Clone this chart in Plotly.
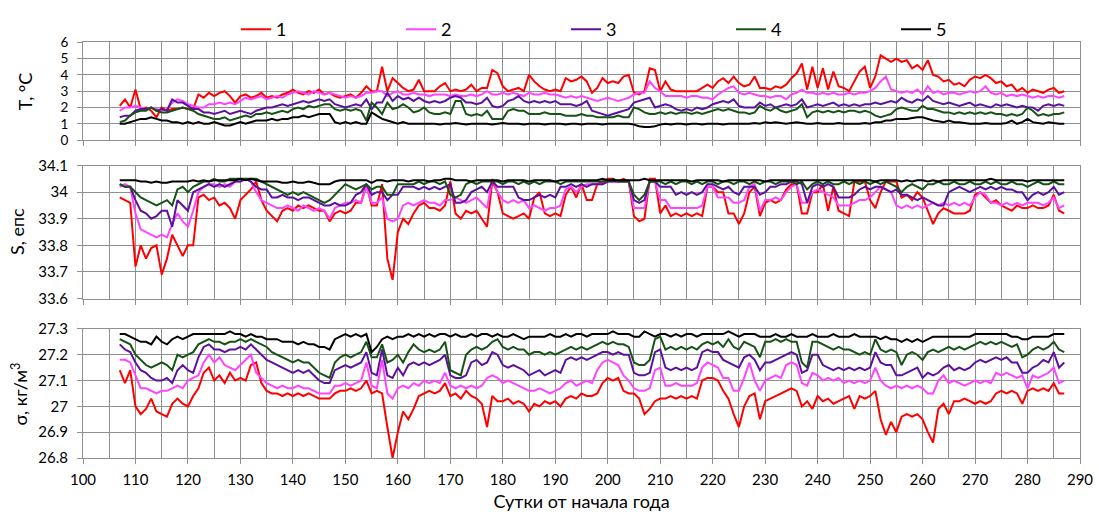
import plotly.graph_objects as go

days = list(range(107, 288))

# ---- Temperature, °C (series 1..5) ----
T1 = [2.1, 2.5, 2.0, 3.1, 1.9, 2.0, 1.8, 1.4, 2.0, 1.8,
      1.9, 1.9, 2.0, 1.9, 1.9, 2.8, 2.6, 2.9, 2.7, 2.9,
      3.0, 2.7, 2.3, 2.7, 2.8, 2.6, 2.7, 2.9, 2.6, 2.7,
      2.6, 2.8, 2.9, 3.1, 2.9, 2.8, 3.0, 2.9, 3.1, 2.8,
      2.9, 2.7, 2.6, 2.7, 2.8, 2.6, 2.9, 3.3, 3.0, 3.0,
      4.5, 3.0, 3.8, 3.5, 3.2, 3.0, 3.1, 3.7, 3.0, 3.0,
      3.0, 3.3, 3.5, 3.0, 3.1, 3.0, 3.1, 3.4, 3.0, 3.2,
      3.2, 4.3, 4.1, 3.3, 3.0, 3.1, 3.2, 3.0, 4.0, 3.6,
      3.3, 3.1, 3.0, 3.1, 3.0, 3.8, 3.6, 3.7, 3.9, 3.6,
      2.9, 3.2, 3.8, 3.5, 3.6, 3.5, 3.9, 4.0, 2.9, 2.8,
      3.0, 4.4, 4.3, 3.0, 3.6, 3.1, 3.0, 3.0, 3.0, 3.0,
      3.0, 3.2, 3.4, 3.2, 3.6, 3.8, 3.5, 3.9, 3.5, 3.3,
      3.4, 3.9, 3.2, 3.2, 3.1, 3.3, 3.2, 3.4, 3.8, 4.1,
      4.7, 3.1, 4.5, 3.2, 4.4, 3.1, 4.2, 3.3, 3.2, 3.0,
      3.6, 4.2, 4.5, 3.2, 3.9, 5.2, 5.0, 4.8, 5.0, 4.8,
      4.9, 4.4, 4.6, 4.3, 4.9, 4.0, 3.9, 3.6, 3.7, 3.4,
      3.5, 3.3, 3.7, 3.9, 3.8, 4.0, 3.8, 3.5, 3.6, 3.3,
      3.4, 3.0, 3.2, 2.9, 3.1, 3.0, 2.9, 3.1, 3.2, 2.9,
      3.0]
T2 = [1.8, 2.0, 2.0, 2.1, 2.0, 1.9, 2.0, 1.9, 1.8, 1.9,
      2.3, 2.5, 2.4, 2.2, 2.1, 2.0, 2.0, 2.2, 2.2, 2.3,
      2.2, 2.3, 2.2, 2.4, 2.6, 2.5, 2.6, 2.7, 2.5, 2.6,
      2.7, 2.6, 2.8, 2.9, 3.0, 2.9, 2.8, 3.0, 2.9, 2.8,
      2.9, 2.8, 2.7, 2.6, 2.7, 2.6, 2.7, 2.9, 2.9, 3.0,
      3.0, 2.7, 2.9, 3.0, 2.8, 2.8, 2.9, 2.8, 2.8, 2.7,
      2.8, 2.8, 2.8, 2.7, 2.8, 2.7, 2.7, 2.8, 2.7, 2.8,
      3.0, 2.8, 2.8, 2.9, 2.8, 2.9, 2.8, 2.7, 2.9, 2.8,
      2.8, 2.9, 2.8, 2.8, 2.7, 2.6, 2.7, 2.6, 2.7, 2.6,
      2.5, 2.4, 2.5, 2.6, 2.5, 2.4, 2.5, 2.6, 2.8, 2.9,
      2.9, 3.6, 3.2, 3.0, 2.7, 2.7, 2.7, 2.7, 2.6, 2.7,
      2.7, 2.6, 2.6, 2.5, 2.8, 3.0, 3.2, 3.3, 2.9, 2.8,
      2.9, 2.8, 2.7, 2.7, 2.6, 2.7, 2.7, 2.5, 2.8, 2.9,
      3.1, 2.9, 2.9, 2.8, 2.9, 2.8, 2.9, 2.8, 2.8, 2.9,
      2.8, 2.9, 2.9, 3.0, 3.2, 3.6, 3.9, 3.1, 3.0, 2.9,
      3.0, 2.9, 3.1, 2.8, 3.3, 2.9, 3.0, 2.8, 2.9, 2.9,
      2.8, 2.9, 3.0, 2.9, 3.0, 3.3, 2.9, 2.8, 2.9, 2.7,
      2.8, 2.7, 2.8, 2.7, 2.6, 2.7, 2.6, 2.7, 2.7, 2.6,
      2.7]
T3 = [1.4, 1.5, 1.5, 1.8, 1.9, 1.9, 2.0, 1.8, 1.9, 1.8,
      2.5, 2.3, 2.3, 2.1, 1.9, 1.9, 1.7, 1.7, 1.6, 1.7,
      1.8, 1.6, 1.7, 1.8, 1.7, 1.6, 1.8, 1.9, 2.0, 2.0,
      2.1, 2.2, 2.1, 2.2, 2.3, 2.4, 2.3, 2.4, 2.5, 2.4,
      2.5, 2.2, 2.1, 2.0, 2.1, 2.2, 2.1, 2.5, 1.9, 2.3,
      2.3, 2.9, 2.4, 2.7, 2.5, 2.6, 2.4, 2.6, 2.4, 2.3,
      2.4, 2.3, 2.4, 2.6, 2.7, 2.6, 2.3, 2.3, 2.2, 2.3,
      2.6, 2.1, 2.0, 2.1, 2.4, 2.5, 2.7, 2.4, 2.3, 2.4,
      2.3, 2.4, 2.3, 2.4, 2.2, 2.2, 2.2, 2.1, 2.2, 2.4,
      1.8, 1.7, 1.6, 1.5, 1.6, 1.7, 1.8, 1.9, 2.3, 2.4,
      2.5, 2.6, 2.0, 2.1, 2.2, 2.1, 1.9, 1.8, 1.9, 1.8,
      2.0, 1.9, 2.0, 2.2, 2.3, 2.4, 2.3, 2.5, 2.1, 2.0,
      2.0, 2.0, 2.3, 2.1, 2.2, 2.0, 2.1, 2.2, 2.1, 2.2,
      2.5, 2.0, 2.1, 2.2, 2.1, 2.2, 2.3, 2.1, 2.2, 2.1,
      2.2, 2.1, 2.2, 2.2, 2.3, 2.2, 2.3, 2.4, 2.3, 2.6,
      2.4, 2.3, 2.5, 2.4, 2.7, 2.4, 2.3, 2.2, 2.3, 2.2,
      2.1, 2.2, 2.3, 2.1, 2.2, 2.1, 2.0, 2.2, 2.1, 2.2,
      2.1, 2.0, 2.1, 2.0, 2.0, 1.8, 2.1, 2.2, 2.1, 2.2,
      2.1]
T4 = [1.1, 1.2, 1.5, 1.7, 1.8, 1.8, 2.0, 1.8, 1.7, 1.7,
      1.8, 1.9, 2.0, 1.9, 1.8, 1.6, 1.5, 1.4, 1.3, 1.3,
      1.4, 1.2, 1.3, 1.4, 1.5, 1.4, 1.6, 1.6, 1.7, 1.6,
      1.7, 1.8, 1.7, 1.9, 2.0, 1.9, 2.1, 2.0, 2.1, 2.2,
      2.2, 1.9, 1.8, 1.9, 1.8, 1.9, 1.8, 1.2, 2.3, 2.0,
      1.6, 2.3, 1.9, 2.0, 2.2, 2.0, 1.7, 1.8, 2.0, 1.7,
      1.6, 1.6, 1.7, 1.6, 2.4, 2.4, 1.6, 1.5, 1.6, 1.5,
      1.8, 1.3, 1.3, 1.3, 1.8, 1.9, 1.8, 1.8, 1.6, 1.6,
      1.6, 1.7, 1.6, 1.6, 1.6, 1.5, 1.5, 1.5, 1.6, 1.5,
      1.5, 1.4, 1.4, 1.4, 1.4, 1.5, 1.4, 1.4, 2.0, 1.9,
      1.7, 1.6, 1.6, 1.7, 1.6, 1.7, 1.6, 1.7, 1.7, 1.6,
      1.7, 1.6, 1.7, 1.8, 1.9, 1.8, 1.9, 1.8, 1.7, 1.7,
      1.6, 1.7, 2.1, 1.9, 1.8, 2.0, 1.8, 1.7, 1.8, 1.9,
      2.2, 1.4, 1.7, 1.8, 1.7, 1.8, 1.7, 1.8, 1.7, 1.8,
      1.8, 1.7, 1.8, 1.7, 1.5, 1.4, 1.5, 1.6, 1.9, 2.0,
      1.9, 1.8, 1.8, 2.1, 1.9, 1.9, 1.8, 1.7, 1.7, 1.6,
      1.7, 1.6, 1.7, 1.6, 1.7, 1.6, 1.7, 1.6, 1.6, 1.5,
      1.6, 1.5, 1.6, 2.0, 1.8, 1.5, 1.6, 1.5, 1.6, 1.6,
      1.7]
T5 = [1.0, 1.0, 1.1, 1.2, 1.3, 1.3, 1.4, 1.3, 1.2, 1.2,
      1.1, 1.1, 1.0, 1.1, 1.0, 1.1, 1.0, 1.0, 1.1, 1.0,
      0.9, 0.9, 1.0, 1.1, 1.0, 1.1, 1.2, 1.2, 1.2, 1.3,
      1.2, 1.3, 1.3, 1.4, 1.4, 1.5, 1.4, 1.5, 1.6, 1.6,
      1.6, 1.1, 1.0, 1.1, 1.0, 1.1, 1.0, 1.0, 1.7, 1.5,
      1.3, 1.2, 1.1, 1.0, 1.1, 1.0, 1.0, 1.0, 1.0, 1.0,
      1.0, 0.95, 1.0, 1.0, 1.05, 1.0, 0.95, 1.0, 1.0, 1.0,
      1.0, 0.95, 1.0, 1.05, 1.0, 1.0, 1.0, 0.95, 1.0, 1.0,
      1.0, 0.95, 1.0, 1.0, 1.0, 0.95, 1.0, 1.0, 0.95, 1.0,
      1.0, 1.0, 0.95, 1.0, 1.0, 1.0, 1.0, 1.0, 0.95, 0.85,
      0.8, 0.8, 0.85, 0.95, 1.0, 0.95, 1.0, 1.0, 0.95, 1.0,
      1.0, 0.95, 1.0, 1.0, 1.0, 0.95, 1.0, 1.0, 1.0, 1.0,
      1.0, 1.05, 1.0, 1.1, 1.05, 1.1, 1.05, 1.0, 1.05, 1.1,
      1.05, 1.0, 1.0, 1.05, 1.0, 1.0, 1.0, 1.05, 1.0, 1.0,
      1.0, 1.0, 1.05, 1.0, 1.1, 1.1, 1.2, 1.2, 1.3, 1.3,
      1.3, 1.35, 1.4, 1.4, 1.3, 1.2, 1.15, 1.1, 1.2, 1.1,
      1.1, 1.05, 1.0, 1.0, 1.0, 1.05, 1.0, 1.0, 1.0, 1.05,
      1.2, 1.0, 1.1, 1.3, 1.1, 1.05, 1.0, 1.1, 1.05, 1.0,
      1.0]

# ---- Salinity, psu ----
S1 = [33.98, 33.97, 33.96, 33.72, 33.80, 33.75, 33.79, 33.80, 33.69, 33.75,
      33.84, 33.80, 33.76, 33.80, 33.80, 33.98, 33.99, 33.97, 33.98, 33.95,
      33.96, 33.94, 33.90, 33.97, 33.99, 34.01, 34.04, 33.97, 33.93, 33.91,
      33.89, 33.93, 33.94, 33.93, 33.95, 33.94, 33.95, 33.94, 33.93, 33.93,
      33.89, 33.92, 33.93, 33.92, 33.93, 33.96, 33.96, 34.03, 33.95, 33.95,
      34.03, 33.75, 33.67, 33.85, 33.90, 33.88, 33.92, 33.95, 33.96, 33.94,
      33.94, 33.93, 33.95, 34.04, 33.92, 33.90, 33.93, 33.92, 33.93, 33.90,
      33.87, 34.04, 34.00, 33.92, 33.91, 33.90, 33.91, 33.92, 33.90, 33.98,
      34.00, 33.92, 33.91, 33.92, 33.91, 33.99, 34.02, 33.98, 34.03, 33.97,
      33.97, 34.03, 34.04, 34.05, 34.05, 34.04, 34.05, 34.04, 33.91, 33.89,
      33.90, 34.05, 34.05, 33.92, 33.95, 33.91, 33.92, 33.91, 33.92, 33.91,
      33.92, 33.91, 34.02, 34.02, 34.00, 34.00, 33.92, 33.92, 33.88, 33.92,
      34.00, 34.02, 33.91, 33.96, 33.97, 33.96, 33.97, 34.01, 34.03, 34.03,
      33.92, 33.92, 34.00, 34.00, 34.03, 33.93, 34.02, 33.93, 33.92, 33.91,
      34.04, 34.04, 34.04, 33.97, 33.94, 34.00, 34.04, 34.04, 34.04, 33.98,
      33.99, 33.97, 34.00, 33.98, 33.93, 33.88, 33.92, 33.94, 33.93, 33.92,
      33.92, 33.92, 33.93, 33.99, 34.00, 33.98, 33.96, 33.97, 33.95, 33.94,
      33.93, 33.95, 33.94, 33.94, 33.95, 33.94, 33.94, 33.95, 33.99, 33.93,
      33.92]
S2 = [34.02, 34.03, 34.02, 33.92, 33.86, 33.85, 33.84, 33.83, 33.84, 33.83,
      33.88, 33.92, 33.89, 33.87, 33.93, 34.00, 34.02, 34.03, 34.03, 34.02,
      34.03, 34.02, 34.04, 34.04, 34.05, 34.04, 34.00, 33.97, 33.96, 33.95,
      33.94, 33.94, 33.95, 33.94, 33.93, 33.95, 33.94, 33.93, 33.94, 33.93,
      33.90, 33.94, 33.95, 33.96, 33.96, 33.97, 33.96, 34.02, 33.96, 33.96,
      33.98, 33.90, 33.89, 33.90, 33.95, 33.96, 33.95, 33.96, 33.97, 33.96,
      33.96, 33.95, 33.97, 33.97, 33.98, 33.97, 33.96, 33.97, 33.98, 33.96,
      33.94, 34.05, 34.00, 33.97, 33.96, 33.97, 33.96, 33.97, 33.94, 33.95,
      33.94, 33.93, 33.94, 33.94, 33.95, 34.01, 34.02, 34.00, 34.02, 34.03,
      34.03, 34.03, 34.03, 34.04, 34.04, 34.04, 34.04, 34.04, 33.94, 33.94,
      33.94, 34.04, 34.04, 33.97, 33.97, 33.94, 33.94, 33.94, 33.94, 33.94,
      33.94, 33.95, 34.02, 34.02, 33.98, 33.98, 33.98, 33.96, 33.96, 33.97,
      34.02, 34.03, 33.93, 33.97, 33.97, 33.98, 33.97, 34.00, 34.02, 34.03,
      33.96, 33.96, 34.00, 34.01, 34.00, 33.99, 33.98, 33.95, 33.95, 33.95,
      33.96, 33.97, 33.97, 33.98, 34.00, 34.02, 34.01, 34.00, 33.95, 33.94,
      33.95, 33.94, 33.95, 33.94, 33.95, 33.96, 33.95, 33.96, 33.95, 33.96,
      33.95, 33.96, 33.95, 33.98, 34.00, 33.99, 33.96, 33.96, 33.95, 33.96,
      33.95, 33.96, 33.95, 33.96, 33.96, 33.96, 33.95, 33.96, 33.98, 33.94,
      33.95]
S3 = [34.03, 34.02, 34.02, 33.97, 33.93, 33.92, 33.90, 33.91, 33.93, 33.93,
      33.87, 33.97, 33.95, 33.93, 34.00, 34.01, 34.02, 34.03, 34.02, 34.03,
      34.02, 34.03, 34.04, 34.04, 34.05, 34.04, 34.02, 34.01, 34.01, 33.98,
      33.98, 33.99, 33.98, 33.98, 33.97, 33.98, 33.98, 33.97, 33.96, 33.95,
      33.95, 33.96, 33.95, 33.95, 33.96, 33.99, 34.00, 34.03, 33.99, 34.00,
      34.00, 33.97, 33.99, 33.99, 34.02, 34.02, 34.02, 34.01, 34.02, 34.01,
      34.02, 34.01, 34.02, 34.03, 33.96, 33.96, 33.97, 34.00, 34.01, 34.02,
      34.00, 34.04, 34.02, 34.02, 34.02, 34.02, 33.98, 33.97, 33.97, 33.98,
      33.99, 33.98, 33.99, 33.98, 34.02, 34.02, 34.03, 34.02, 34.03, 34.02,
      34.03, 34.03, 34.03, 34.04, 34.04, 34.04, 34.04, 34.04, 33.97, 33.96,
      33.97, 34.04, 34.04, 34.02, 34.02, 34.02, 33.99, 34.00, 33.99, 34.00,
      33.99, 34.00, 34.03, 34.03, 34.02, 34.01, 34.02, 34.00, 33.99, 34.02,
      34.02, 34.02, 33.99, 34.00, 34.02, 34.02, 34.03, 34.03, 34.04, 34.04,
      34.03, 33.96, 34.02, 34.03, 34.02, 34.03, 34.02, 33.98, 33.98, 33.98,
      33.99, 34.01, 34.02, 34.01, 34.02, 34.02, 34.01, 34.00, 34.01, 33.99,
      33.99, 33.98, 33.97, 33.98, 33.97, 33.96, 33.95, 33.95, 34.00, 34.01,
      34.02, 34.01, 34.00, 34.01, 34.02, 34.01, 34.02, 34.01, 34.02, 34.01,
      34.01, 34.00, 34.00, 33.97, 33.99, 34.00, 33.99, 34.00, 34.02, 33.99,
      34.00]
S4 = [34.03, 34.02, 34.02, 34.00, 33.98, 33.97, 33.96, 33.95, 33.96, 33.97,
      33.95, 34.01, 34.02, 34.00, 34.02, 34.03, 34.04, 34.04, 34.05, 34.04,
      34.04, 34.05, 34.05, 34.05, 34.05, 34.05, 34.05, 34.04, 34.03, 34.02,
      34.01, 34.00, 33.99, 34.00, 33.99, 34.00, 33.99, 33.98, 33.97, 33.96,
      33.97, 33.99, 34.01, 34.03, 34.02, 34.01, 34.02, 34.03, 34.01, 34.02,
      34.02, 33.99, 33.99, 34.03, 34.03, 34.03, 34.03, 34.04, 34.03, 34.04,
      34.04, 34.03, 34.04, 33.99, 33.98, 33.99, 34.03, 34.04, 34.03, 34.04,
      34.04, 34.04, 34.04, 34.03, 34.04, 34.04, 34.03, 34.04, 34.03, 34.04,
      34.03, 34.04, 34.04, 34.04, 34.03, 34.04, 34.04, 34.04, 34.04, 34.04,
      34.04, 34.04, 34.04, 34.04, 34.05, 34.04, 34.04, 34.04, 33.99, 33.97,
      33.99, 34.04, 34.04, 34.04, 34.03, 34.04, 34.03, 34.04, 34.04, 34.03,
      34.04, 34.03, 34.04, 34.04, 34.03, 34.04, 34.04, 34.03, 34.04, 34.04,
      34.03, 34.04, 34.03, 34.04, 34.04, 34.03, 34.04, 34.04, 34.04, 34.03,
      34.04, 34.01, 34.03, 34.04, 34.03, 34.04, 34.03, 34.03, 34.04, 34.03,
      34.04, 34.03, 34.04, 34.03, 34.04, 34.03, 34.04, 34.03, 34.02, 34.00,
      34.02, 34.03, 34.02, 34.01, 34.03, 34.03, 34.04, 34.03, 34.03, 34.04,
      34.03, 34.03, 34.04, 34.03, 34.03, 34.04, 34.03, 34.04, 34.03, 34.03,
      34.04, 34.03, 34.03, 34.02, 34.03, 34.04, 34.03, 34.03, 34.04, 34.03,
      34.03]
S5 = [34.045, 34.045, 34.045, 34.045, 34.04, 34.04, 34.035, 34.04, 34.035, 34.035,
      34.04, 34.04, 34.04, 34.04, 34.045, 34.04, 34.045, 34.04, 34.045, 34.045,
      34.045, 34.045, 34.045, 34.05, 34.045, 34.05, 34.045, 34.04, 34.04, 34.04,
      34.04, 34.035, 34.035, 34.04, 34.035, 34.035, 34.04, 34.035, 34.03, 34.03,
      34.03, 34.04, 34.045, 34.045, 34.045, 34.045, 34.045, 34.045, 34.035, 34.045,
      34.045, 34.04, 34.045, 34.045, 34.045, 34.04, 34.045, 34.045, 34.045, 34.04,
      34.045, 34.045, 34.05, 34.05, 34.045, 34.045, 34.045, 34.04, 34.045, 34.045,
      34.045, 34.045, 34.045, 34.04, 34.045, 34.045, 34.045, 34.045, 34.04, 34.045,
      34.045, 34.045, 34.045, 34.04, 34.045, 34.045, 34.045, 34.045, 34.045, 34.045,
      34.045, 34.045, 34.05, 34.045, 34.045, 34.045, 34.045, 34.045, 34.045, 34.045,
      34.05, 34.045, 34.045, 34.045, 34.045, 34.045, 34.045, 34.045, 34.045, 34.04,
      34.045, 34.045, 34.045, 34.045, 34.045, 34.04, 34.045, 34.045, 34.045, 34.045,
      34.045, 34.045, 34.045, 34.04, 34.045, 34.045, 34.045, 34.045, 34.045, 34.045,
      34.045, 34.045, 34.045, 34.045, 34.045, 34.045, 34.045, 34.045, 34.045, 34.045,
      34.045, 34.045, 34.045, 34.045, 34.04, 34.045, 34.045, 34.045, 34.045, 34.04,
      34.045, 34.04, 34.045, 34.045, 34.04, 34.045, 34.04, 34.045, 34.045, 34.045,
      34.045, 34.045, 34.045, 34.045, 34.045, 34.045, 34.05, 34.045, 34.045, 34.045,
      34.045, 34.045, 34.045, 34.04, 34.045, 34.045, 34.045, 34.045, 34.045, 34.045,
      34.045]

# ---- Density sigma, kg/m3 ----
D1 = [27.14, 27.09, 27.14, 27.00, 26.97, 26.99, 27.03, 26.98, 26.97, 26.96,
      27.01, 27.03, 27.01, 27.00, 27.04, 27.07, 27.13, 27.15, 27.10, 27.12,
      27.09, 27.13, 27.10, 27.11, 27.10, 27.16, 27.17, 27.09, 27.06, 27.05,
      27.05, 27.04, 27.05, 27.04, 27.05, 27.04, 27.05, 27.04, 27.03, 27.03,
      27.03, 27.05, 27.06, 27.06, 27.07, 27.06, 27.07, 27.10, 27.05, 27.06,
      27.05, 26.92, 26.80, 26.90, 26.98, 26.95, 26.99, 27.04, 27.05, 27.06,
      27.05, 27.06, 27.09, 27.04, 27.05, 27.03, 27.06, 27.04, 27.03, 27.01,
      26.92, 27.04, 27.02, 27.02, 27.03, 27.01, 27.02, 27.01, 26.98, 27.01,
      27.00, 27.02, 27.01, 27.02, 27.00, 27.03, 27.04, 27.03, 27.05, 27.04,
      27.04, 27.05, 27.09, 27.11, 27.10, 27.11, 27.06, 27.05, 27.05, 27.03,
      26.97, 26.99, 27.02, 27.03, 27.03, 27.04, 27.03, 27.04, 27.03, 27.04,
      27.03, 27.10, 27.11, 27.11, 27.10, 27.06, 27.03, 26.97, 26.92, 27.00,
      27.04, 27.05, 26.95, 27.02, 27.03, 27.04, 27.05, 27.06, 27.07, 27.06,
      27.00, 27.02, 26.99, 27.04, 27.02, 27.03, 27.01, 27.02, 27.03, 27.04,
      26.99, 27.04, 27.03, 27.04, 27.06, 26.95, 26.89, 26.94, 26.90, 26.96,
      26.97, 26.96, 26.97, 26.95, 26.90, 26.86, 26.99, 27.01, 26.97, 27.02,
      27.02, 27.03, 27.02, 27.01, 27.02, 27.01, 27.02, 27.05, 27.06, 27.05,
      27.06, 27.05, 27.01, 27.06, 27.07, 27.06, 27.07, 27.06, 27.09, 27.05,
      27.05]
D2 = [27.18, 27.18, 27.17, 27.12, 27.07, 27.07, 27.06, 27.05, 27.06, 27.06,
      27.07, 27.08, 27.07, 27.10, 27.11, 27.12, 27.17, 27.20, 27.17, 27.19,
      27.16, 27.15, 27.14, 27.16, 27.18, 27.20, 27.13, 27.11, 27.09, 27.08,
      27.07, 27.08, 27.07, 27.07, 27.08, 27.07, 27.07, 27.06, 27.05, 27.05,
      27.05, 27.08, 27.08, 27.09, 27.08, 27.09, 27.10, 27.17, 27.08, 27.07,
      27.18, 27.05, 27.03, 27.07, 27.08, 27.07, 27.09, 27.08, 27.10, 27.09,
      27.10, 27.09, 27.13, 27.08, 27.07, 27.08, 27.07, 27.08, 27.07, 27.08,
      27.11, 27.12, 27.11, 27.09, 27.10, 27.09, 27.08, 27.07, 27.06, 27.06,
      27.07, 27.06, 27.05, 27.06, 27.07, 27.09, 27.10, 27.08, 27.09, 27.10,
      27.09, 27.14, 27.17, 27.18, 27.17, 27.16, 27.12, 27.10, 27.07, 27.06,
      27.06, 27.07, 27.14, 27.15, 27.08, 27.08, 27.09, 27.08, 27.08, 27.08,
      27.09, 27.15, 27.17, 27.16, 27.15, 27.11, 27.11, 27.06, 27.06, 27.11,
      27.17, 27.10, 27.06, 27.10, 27.11, 27.12, 27.11, 27.16, 27.17, 27.16,
      27.09, 27.08, 27.13, 27.12, 27.10, 27.11, 27.10, 27.11, 27.09, 27.10,
      27.09, 27.10, 27.09, 27.10, 27.15, 27.10, 27.08, 27.07, 27.08, 27.07,
      27.08, 27.07, 27.08, 27.07, 27.05, 27.05, 27.10, 27.12, 27.09, 27.10,
      27.09, 27.08, 27.09, 27.10, 27.09, 27.10, 27.09, 27.13, 27.12, 27.13,
      27.12, 27.11, 27.12, 27.07, 27.12, 27.11, 27.12, 27.13, 27.15, 27.09,
      27.10]
D3 = [27.24, 27.22, 27.21, 27.17, 27.14, 27.13, 27.11, 27.10, 27.10, 27.11,
      27.09, 27.14, 27.16, 27.14, 27.13, 27.19, 27.23, 27.24, 27.22, 27.22,
      27.21, 27.22, 27.22, 27.23, 27.22, 27.24, 27.22, 27.20, 27.18, 27.17,
      27.16, 27.15, 27.14, 27.13, 27.14, 27.13, 27.14, 27.12, 27.10, 27.09,
      27.09, 27.14, 27.15, 27.16, 27.15, 27.16, 27.17, 27.21, 27.13, 27.12,
      27.22, 27.12, 27.11, 27.15, 27.12, 27.16, 27.17, 27.16, 27.17, 27.16,
      27.17, 27.18, 27.20, 27.12, 27.11, 27.11, 27.12, 27.17, 27.18, 27.16,
      27.17, 27.21, 27.20, 27.16, 27.15, 27.16, 27.15, 27.14, 27.12, 27.13,
      27.14, 27.12, 27.13, 27.14, 27.13, 27.18, 27.19, 27.18, 27.19, 27.18,
      27.19, 27.20, 27.21, 27.21, 27.20, 27.21, 27.20, 27.20, 27.13, 27.12,
      27.12, 27.13, 27.21, 27.22, 27.15, 27.14, 27.15, 27.14, 27.15, 27.14,
      27.15, 27.21, 27.22, 27.21, 27.21, 27.18, 27.17, 27.16, 27.15, 27.19,
      27.20, 27.18, 27.14, 27.17, 27.17, 27.18, 27.19, 27.20, 27.21, 27.20,
      27.13, 27.14, 27.20, 27.20, 27.16, 27.15, 27.14, 27.15, 27.14, 27.15,
      27.14, 27.15, 27.14, 27.15, 27.21, 27.17, 27.16, 27.16, 27.12, 27.12,
      27.13, 27.14, 27.15, 27.11, 27.13, 27.12, 27.13, 27.15, 27.16, 27.14,
      27.15, 27.14, 27.15, 27.17, 27.18, 27.17, 27.18, 27.19, 27.18, 27.19,
      27.17, 27.17, 27.13, 27.13, 27.15, 27.16, 27.18, 27.17, 27.21, 27.15,
      27.17]
D4 = [27.26, 27.25, 27.24, 27.20, 27.18, 27.16, 27.15, 27.16, 27.17, 27.16,
      27.14, 27.20, 27.19, 27.20, 27.21, 27.24, 27.25, 27.26, 27.25, 27.25,
      27.24, 27.25, 27.25, 27.26, 27.25, 27.26, 27.25, 27.24, 27.23, 27.21,
      27.20, 27.19, 27.18, 27.17, 27.18, 27.17, 27.17, 27.15, 27.13, 27.12,
      27.11, 27.17, 27.19, 27.20, 27.19, 27.20, 27.21, 27.25, 27.19, 27.19,
      27.24, 27.17, 27.18, 27.20, 27.17, 27.21, 27.24, 27.22, 27.21, 27.22,
      27.21, 27.22, 27.25, 27.14, 27.13, 27.12, 27.20, 27.22, 27.23, 27.22,
      27.23, 27.25, 27.26, 27.23, 27.22, 27.23, 27.22, 27.22, 27.20, 27.21,
      27.21, 27.20, 27.21, 27.20, 27.21, 27.22, 27.23, 27.22, 27.23, 27.22,
      27.23, 27.24, 27.25, 27.24, 27.25, 27.24, 27.24, 27.23, 27.17, 27.16,
      27.16, 27.18, 27.26, 27.27, 27.22, 27.23, 27.22, 27.23, 27.22, 27.23,
      27.22, 27.24, 27.25, 27.24, 27.25, 27.23, 27.26, 27.23, 27.22, 27.25,
      27.24, 27.23, 27.19, 27.25, 27.25, 27.26, 27.25, 27.26, 27.25, 27.25,
      27.17, 27.15, 27.25, 27.25, 27.24, 27.23, 27.22, 27.23, 27.22, 27.22,
      27.21, 27.20, 27.21, 27.20, 27.26, 27.22, 27.21, 27.22, 27.21, 27.16,
      27.20, 27.21, 27.20, 27.18, 27.21, 27.22, 27.21, 27.22, 27.23, 27.22,
      27.23, 27.22, 27.23, 27.24, 27.25, 27.24, 27.25, 27.24, 27.25, 27.24,
      27.23, 27.24, 27.19, 27.20, 27.22, 27.23, 27.22, 27.23, 27.25, 27.22,
      27.21]
D5 = [27.28, 27.28, 27.27, 27.26, 27.25, 27.25, 27.24, 27.27, 27.25, 27.24,
      27.26, 27.27, 27.26, 27.27, 27.28, 27.28, 27.28, 27.28, 27.28, 27.28,
      27.28, 27.29, 27.28, 27.28, 27.27, 27.28, 27.27, 27.27, 27.26, 27.26,
      27.26, 27.25, 27.25, 27.25, 27.24, 27.25, 27.24, 27.24, 27.23, 27.23,
      27.22, 27.26, 27.27, 27.28, 27.27, 27.28, 27.27, 27.28, 27.21, 27.23,
      27.26, 27.27, 27.26, 27.27, 27.27, 27.28, 27.27, 27.28, 27.27, 27.28,
      27.27, 27.28, 27.28, 27.27, 27.28, 27.27, 27.27, 27.28, 27.27, 27.28,
      27.28, 27.27, 27.28, 27.27, 27.27, 27.28, 27.27, 27.26, 27.27, 27.27,
      27.27, 27.27, 27.28, 27.27, 27.27, 27.28, 27.27, 27.28, 27.28, 27.27,
      27.28, 27.28, 27.28, 27.28, 27.29, 27.28, 27.28, 27.28, 27.27, 27.27,
      27.29, 27.28, 27.27, 27.28, 27.28, 27.27, 27.28, 27.27, 27.28, 27.28,
      27.27, 27.28, 27.28, 27.28, 27.28, 27.28, 27.29, 27.28, 27.27, 27.28,
      27.28, 27.28, 27.27, 27.27, 27.27, 27.28, 27.27, 27.27, 27.28, 27.27,
      27.27, 27.27, 27.28, 27.27, 27.27, 27.27, 27.28, 27.27, 27.27, 27.27,
      27.28, 27.27, 27.27, 27.27, 27.27, 27.26, 27.27, 27.26, 27.26, 27.25,
      27.26, 27.25, 27.26, 27.25, 27.26, 27.27, 27.27, 27.27, 27.27, 27.27,
      27.27, 27.27, 27.27, 27.28, 27.28, 27.28, 27.28, 27.28, 27.28, 27.28,
      27.27, 27.27, 27.26, 27.26, 27.27, 27.27, 27.27, 27.27, 27.28, 27.28,
      27.28]

series_names = ["1", "2", "3", "4", "5"]
colors = ["#ff0000", "#ff44ff", "#5c119e", "#165216", "#000000"]

T_ticks = [0, 1, 2, 3, 4, 5, 6]
T_ticklabels = ["0", "1", "2", "3", "4", "5", "6"]
S_ticks = [33.6, 33.7, 33.8, 33.9, 34.0, 34.1]
S_ticklabels = ["33.6", "33.7", "33.8", "33.9", "34", "34.1"]
D_ticks = [26.8, 26.9, 27.0, 27.1, 27.2, 27.3]
D_ticklabels = ["26.8", "26.9", "27", "27.1", "27.2", "27.3"]

for arr in (T1, T2, T3, T4, T5, S1, S2, S3, S4, S5, D1, D2, D3, D4, D5):
    assert len(arr) == len(days), len(arr)

FONT = "Lato"
fig = go.Figure()

panels = [
    ([T1, T2, T3, T4, T5], "x", "y"),
    ([S1, S2, S3, S4, S5], "x2", "y2"),
    ([D1, D2, D3, D4, D5], "x3", "y3"),
]
for p, (arrs, xa, ya) in enumerate(panels):
    for i, arr in enumerate(arrs):
        fig.add_trace(go.Scatter(
            x=days, y=arr, mode="lines", name=series_names[i],
            line=dict(color=colors[i], width=2),
            xaxis=xa, yaxis=ya, showlegend=(p == 0), legendgroup=series_names[i],
        ))

W, H = 1099, 514
ml, mr, mt, mb = 83, 19, 0, 56
ph = H - mt - mb
pw = W - ml - mr


def dom(top_px, bot_px):
    return [(H - mb - bot_px) / ph, (H - mb - top_px) / ph]


def ypaper(px):
    return (H - mb - px) / ph


def xpaper(px):
    return (px - ml) / pw


grid_col = "#8f8f8f"
xcommon = dict(range=[100, 290], tickmode="linear", tick0=100, dtick=10,
               showgrid=True, gridcolor=grid_col, gridwidth=1,
               minor=dict(dtick=5, tick0=100, showgrid=True, gridcolor=grid_col, gridwidth=1),
               ticks="outside", ticklen=5, tickcolor=grid_col,
               showline=True, linecolor=grid_col, linewidth=1, mirror=True,
               zeroline=False, fixedrange=True,
               tickfont=dict(family=FONT, size=15, color="#000"))
ycommon = dict(showgrid=True, gridcolor=grid_col, gridwidth=1,
               ticks="outside", ticklen=5, tickcolor=grid_col,
               showline=True, linecolor=grid_col, linewidth=1, mirror=True,
               zeroline=False, fixedrange=True, ticklabelstandoff=6,
               tickfont=dict(family=FONT, size=15, color="#000"))

fig.update_layout(
    width=W, height=H,
    margin=dict(l=ml, r=mr, t=mt, b=mb),
    paper_bgcolor="white", plot_bgcolor="white",
    font=dict(family=FONT, color="#000"),
    xaxis=dict(xcommon, anchor="y", domain=[0, 1], showticklabels=False),
    xaxis2=dict(xcommon, anchor="y2", domain=[0, 1], showticklabels=False),
    xaxis3=dict(xcommon, anchor="y3", domain=[0, 1], ticklabelstandoff=3,
                title=dict(text="Сутки от начала года", font=dict(family=FONT, size=18), standoff=8)),
    yaxis=dict(ycommon, anchor="x", domain=dom(33, 133), range=[0, 6],
               tickmode="array", tickvals=T_ticks, ticktext=T_ticklabels,
               tickfont=dict(family=FONT, size=13.5, color="#000")),
    yaxis2=dict(ycommon, anchor="x2", domain=dom(159, 295), range=[33.6, 34.1],
                tickmode="array", tickvals=S_ticks, ticktext=S_ticklabels),
    yaxis3=dict(ycommon, anchor="x3", domain=dom(326, 458), range=[26.8, 27.3],
                tickmode="array", tickvals=D_ticks, ticktext=D_ticklabels),
    legend=dict(orientation="h", x=xpaper(236), xanchor="left",
                y=ypaper(20), yanchor="middle",
                entrywidth=120, entrywidthmode="pixels",
                font=dict(family=FONT, size=18, color="#000"),
                bgcolor="rgba(0,0,0,0)", tracegroupgap=0),
    showlegend=True,
)

titles = [("T, °C", 25, 83), ("S, епс", 17, 227), ("σ, кг/м<sup>3</sup>", 20, 392)]
for text, xp, yp in titles:
    fig.add_annotation(text=text, x=xpaper(xp), y=ypaper(yp), xref="paper", yref="paper",
                       textangle=-90, showarrow=False, xanchor="center", yanchor="middle",
                       font=dict(family=FONT, size=18, color="#000"))

fig.write_html("out.html")
